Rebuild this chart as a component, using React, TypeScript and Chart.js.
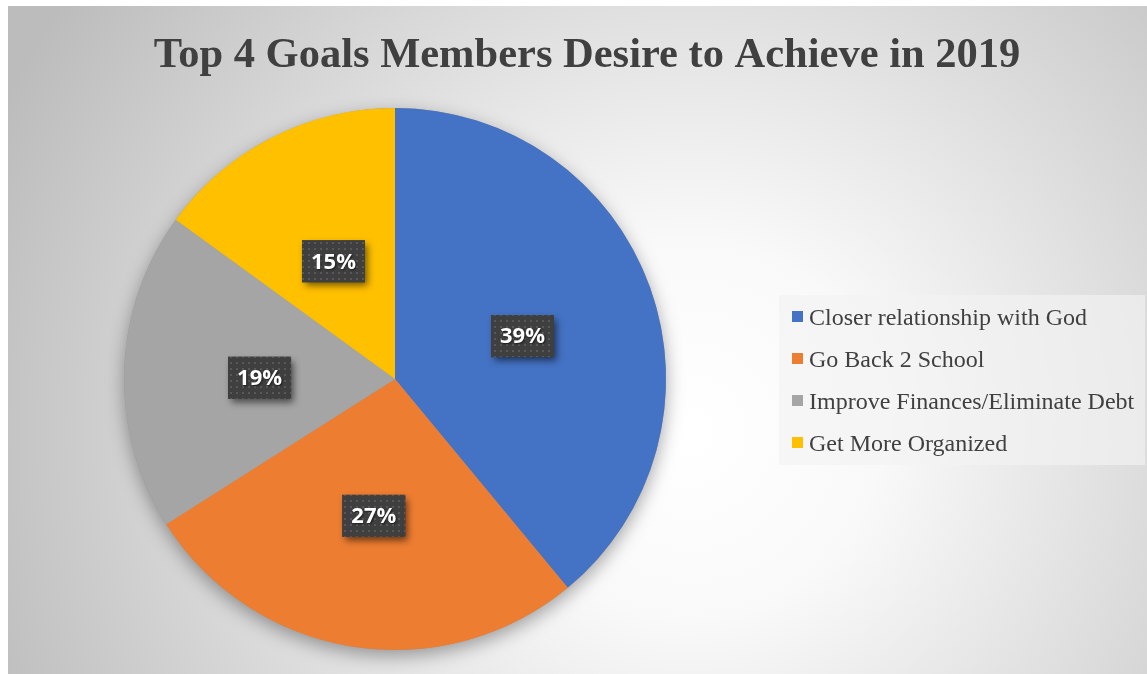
import React, { useEffect, useRef } from "react";
import { Chart, registerables } from "chart.js";

Chart.register(...registerables);

const TITLE = "Top 4 Goals Members Desire to Achieve in 2019";
const categories = [
  "Closer relationship with God",
  "Go Back 2 School",
  "Improve Finances/Eliminate Debt",
  "Get More Organized",
];
const values = [39, 27, 19, 15];
const colors = ["#4472C4", "#ED7D31", "#A5A5A5", "#FFC000"];

const W = 1147;
const H = 674;

function makePattern(ctx: CanvasRenderingContext2D) {
  const c = document.createElement("canvas");
  c.width = 6;
  c.height = 6;
  const p = c.getContext("2d")!;
  p.fillStyle = "#3f3f3f";
  p.fillRect(0, 0, 6, 6);
  p.fillStyle = "#585858";
  p.fillRect(2, 2, 2, 2);
  return ctx.createPattern(c, "repeat");
}

export default function App() {
  const ref = useRef<HTMLCanvasElement>(null);

  useEffect(() => {
    document.body.style.margin = "0";
    const canvas = ref.current!;

    const decor = {
      id: "decor",
      beforeDraw(chart: any) {
        const ctx: CanvasRenderingContext2D = chart.ctx;
        ctx.save();
        ctx.fillStyle = "#ffffff";
        ctx.fillRect(0, 0, W, H);
        const g = ctx.createRadialGradient(690, 430, 0, 690, 430, 760);
        g.addColorStop(0, "#ffffff");
        g.addColorStop(0.25, "#f9f9f9");
        g.addColorStop(1, "#bcbcbc");
        ctx.fillStyle = g;
        ctx.fillRect(8, 6, W - 8, H - 6);

        // title
        ctx.font = "bold 42.5px 'Liberation Serif'";
        ctx.fillStyle = "#404040";
        ctx.textAlign = "center";
        ctx.textBaseline = "alphabetic";
        ctx.fillText(TITLE, 587, 67);

        // legend
        ctx.fillStyle = "rgba(242,242,242,0.65)";
        ctx.fillRect(779, 295, 366, 170);
        ctx.font = "24px 'Liberation Serif'";
        ctx.textAlign = "left";
        categories.forEach((label, i) => {
          const cy = 316.5 + i * 42;
          ctx.fillStyle = colors[i];
          ctx.fillRect(792, cy - 5.5, 11, 11);
          ctx.fillStyle = "#404040";
          ctx.fillText(label, 809, cy + 8);
        });
        ctx.restore();
      },
      beforeDatasetsDraw(chart: any) {
        const meta = chart.getDatasetMeta(0);
        const arc = meta.data[0];
        if (!arc) return;
        const ctx: CanvasRenderingContext2D = chart.ctx;
        ctx.save();
        ctx.shadowColor = "rgba(0,0,0,0.35)";
        ctx.shadowBlur = 18;
        ctx.shadowOffsetY = 6;
        ctx.fillStyle = "#999";
        ctx.beginPath();
        ctx.arc(arc.x, arc.y, arc.outerRadius, 0, Math.PI * 2);
        ctx.fill();
        ctx.restore();
      },
      afterDatasetsDraw(chart: any) {
        const meta = chart.getDatasetMeta(0);
        const ctx: CanvasRenderingContext2D = chart.ctx;
        const pattern = makePattern(ctx);
        meta.data.forEach((arc: any, i: number) => {
          const c = arc.getCenterPoint();
          const x = c.x;
          const y = c.y + 3;
          const text = values[i] + "%";
          const bw = 63;
          const bh = 42;
          ctx.save();
          ctx.shadowColor = "rgba(0,0,0,0.55)";
          ctx.shadowBlur = 7;
          ctx.shadowOffsetX = 3;
          ctx.shadowOffsetY = 4;
          ctx.fillStyle = "#404040";
          ctx.fillRect(x - bw / 2, y - bh / 2, bw, bh);
          ctx.restore();
          ctx.save();
          if (pattern) {
            ctx.fillStyle = pattern;
            ctx.fillRect(x - bw / 2, y - bh / 2, bw, bh);
          }
          ctx.font = "bold 22px 'Open Sans'";
          ctx.textAlign = "center";
          ctx.textBaseline = "middle";
          ctx.shadowColor = "rgba(0,0,0,0.6)";
          ctx.shadowBlur = 2;
          ctx.shadowOffsetX = 1;
          ctx.shadowOffsetY = 1;
          ctx.fillStyle = "#ffffff";
          ctx.fillText(text, x, y + 1);
          ctx.restore();
        });
      },
    };

    const chart = new Chart(canvas, {
      type: "pie",
      data: {
        labels: categories,
        datasets: [
          {
            data: values,
            backgroundColor: colors,
            borderWidth: 0,
            hoverOffset: 0,
            offset: 0,
          },
        ],
      },
      options: {
        responsive: false,
        animation: false,
        events: [],
        layout: { padding: { left: 11, right: 368, top: 108, bottom: 24 } },
        plugins: {
          legend: { display: false },
          title: { display: false },
          tooltip: { enabled: false },
        },
      },
      plugins: [decor],
    });
    return () => chart.destroy();
  }, []);

  return (
    <div style={{ position: "absolute", left: 0, top: 0 }}>
      <canvas ref={ref} width={W} height={H} style={{ display: "block", width: W, height: H }} />
    </div>
  );
}
